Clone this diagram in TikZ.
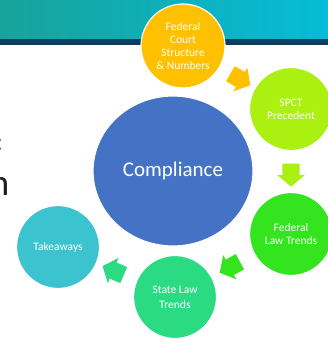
\documentclass[tikz,border=0pt]{standalone}
\usepackage{fontspec}
\setmainfont{Carlito}
\usetikzlibrary{shapes.geometric,shapes.arrows}
\definecolor{bandL}{RGB}{23,163,154}
\definecolor{bandR}{RGB}{6,188,216}
\definecolor{bandLine}{RGB}{11,61,99}
\definecolor{cGold}{RGB}{255,192,0}
\definecolor{cLime}{RGB}{170,240,16}
\definecolor{cGreen}{RGB}{51,228,31}
\definecolor{cMint}{RGB}{43,219,132}
\definecolor{cTeal}{RGB}{59,196,207}
\definecolor{cBlue}{RGB}{68,114,196}
\definecolor{txtDark}{RGB}{30,30,30}
\tikzset{
  bubble/.style={circle, draw=white, line width=1.2pt, minimum size=83pt, inner sep=0pt,
    text=white, align=center, font=\fontsize{11.5}{13}\selectfont},
  blockarrow/.style={single arrow, fill=#1, draw=none, sloped, allow upside down,
    minimum height=23pt, inner xsep=0pt, inner ysep=8.5pt,
    single arrow head extend=5pt, single arrow tip angle=100, single arrow head indent=0pt},
}
\begin{document}
\begin{tikzpicture}[x=1pt,y=-1pt]
\useasboundingbox (0,0) rectangle (328,339);
% header band
\shade[left color=bandL, right color=bandR] (0,0) rectangle (328,39.5);
\fill[bandLine] (0,39.5) rectangle (328,45);
% cut-off slide text
\node[anchor=base east, inner sep=0pt, text=txtDark, font=\fontsize{26}{30}\selectfont] (t1) at (3,150) {:};
\node[anchor=base east, inner sep=0pt, text=txtDark, font=\fontsize{37}{40}\selectfont] (t2) at (9.5,195) {n};
% bubbles
\node[ellipse, fill=cBlue, draw=white, line width=1.2pt, minimum width=160pt, minimum height=150pt,
  inner sep=0pt, text=white, font=\fontsize{21}{24}\selectfont] (cm) at (173,171) {Compliance};
\node[bubble, fill=cGold, minimum size=84pt] (fc) at (183,46) {Federal\\Court\\Structure\\\& Numbers};
\node[bubble, fill=cLime] (sp) at (291,109) {SPCT\\Precedent};
\node[bubble, fill=cGreen] (fl) at (291,234) {Federal\\Law Trends};
\node[bubble, fill=cMint, font=\fontsize{11.5}{15}\selectfont] (sl) at (175,297) {State Law\\Trends};
\node[bubble, fill=cTeal] (tk) at (58,247) {Takeaways};
% block arrows
\path (fc) -- (sp) node[midway, blockarrow=cGold] (a1) {};
\path (sp) -- (fl) node[midway, blockarrow=cLime] (a2) {};
\path (fl) -- (sl) node[midway, blockarrow=cGreen] (a3) {};
\path (sl) -- (tk) node[midway, blockarrow=cMint] (a4) {};
\end{tikzpicture}
\end{document}
